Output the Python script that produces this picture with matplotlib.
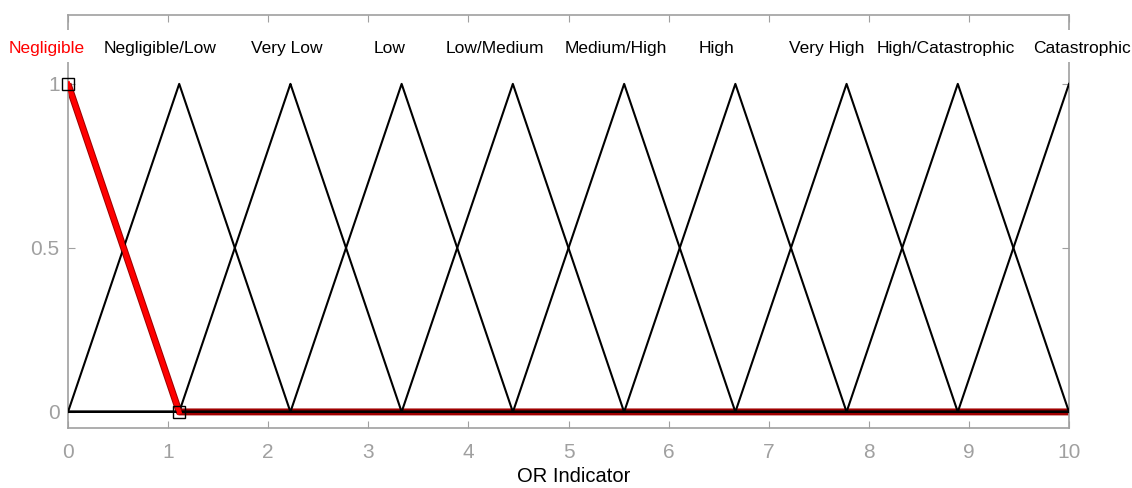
import numpy as np
import matplotlib.pyplot as plt
from matplotlib.patches import Rectangle

plt.rcParams['font.family'] = ['Liberation Sans', 'DejaVu Sans']

# membership function names and triangle peaks on the OR Indicator scale
mf_names = ['Negligible', 'Negligible/Low', 'Very Low', 'Low', 'Low/Medium',
            'Medium/High', 'High', 'Very High', 'High/Catastrophic', 'Catastrophic']
peaks = [0, 1.111, 2.222, 3.333, 4.444, 5.556, 6.667, 7.778, 8.889, 10]
# pixel centres of the name labels across the top band
label_px = [47, 160, 287, 390, 495, 616, 716, 827, 946, 1082]
selected = 0

xticks = [0, 1, 2, 3, 4, 5, 6, 7, 8, 9, 10]
yticks = [0, 0.5, 1]

W, H = 1132, 488
fig = plt.figure(figsize=(W / 100, H / 100), dpi=100)
ax = fig.add_axes([68 / W, 60 / H, (1069 - 68) / W, (428 - 15) / H])

width = peaks[1] - peaks[0]


def trimf(xs, c):
    return np.clip(1 - np.abs(xs - c) / width, 0, 1)


xs = np.unique(np.concatenate([[0.0, 10.0], peaks, np.array(peaks) - width,
                               np.array(peaks) + width]))
xs = xs[(xs >= 0) & (xs <= 10)]

# selected MF drawn thick dark red underneath
ax.plot(xs, trimf(xs, peaks[selected]), color='#a00000', lw=5, zorder=2,
        solid_capstyle='butt')
for i, c in enumerate(peaks):
    if i == selected:
        continue
    ax.plot(xs, trimf(xs, c), color='black', lw=1.5, zorder=3)
# red diagonal on top
seg = xs[xs <= peaks[1]]
ax.plot(seg, trimf(seg, peaks[selected]), color='#ff0000', lw=3.5, zorder=4)
ax.plot([peaks[0], peaks[1]], [1, 0], ls='none', marker='s', ms=8,
        mfc='none', mec='black', mew=1, zorder=5, clip_on=False)

ax.set_xlim(0, 10)
ax.set_ylim(-0.049, 1.21)
ax.set_xticks(xticks)
ax.set_yticks(yticks)
ax.set_yticklabels(['0', '0.5', '1'])
ax.tick_params(direction='in', length=5, color='#a0a0a0', labelcolor='#a0a0a0',
               labelsize=15, top=True, right=True, pad=6)
ax.tick_params(axis='x', pad=11)
for s in ax.spines.values():
    s.set_color('#a0a0a0')
    s.set_linewidth(1.2)
ax.set_xlabel('OR Indicator', fontsize=14.5, va='center')
ax.xaxis.set_label_coords(0.505, -49 / 413)

# white band behind the labels
fig.patches.append(Rectangle((0, (H - 62) / H), 1, 32 / H, transform=fig.transFigure,
                             facecolor='white', edgecolor='none', zorder=5))
for i, (name, px) in enumerate(zip(mf_names, label_px)):
    fig.text(px / W, (H - 53) / H, name, ha='center', va='baseline', fontsize=12.5,
             color='red' if i == selected else 'black', zorder=6)

fig.savefig('out.png', dpi=100)
